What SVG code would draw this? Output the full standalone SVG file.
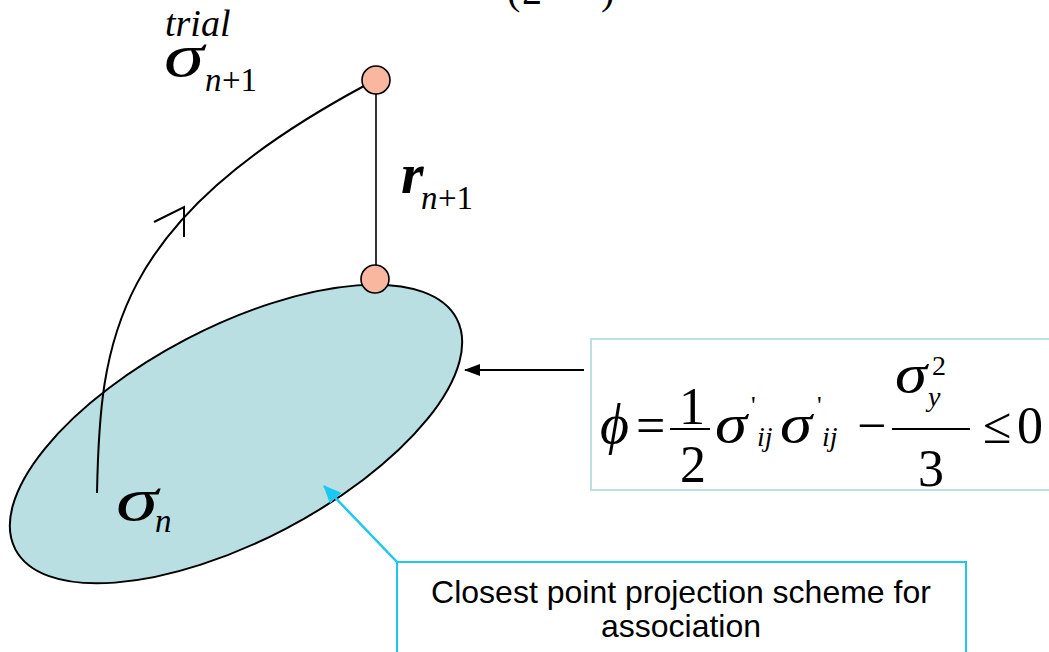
<svg xmlns="http://www.w3.org/2000/svg" width="1049" height="652" viewBox="0 0 1049 652">
<defs>
<style>
.m{font-family:"Liberation Serif","Times New Roman",serif;fill:#000}
.i{font-style:italic}
.s{font-family:"Liberation Sans",Arial,sans-serif;fill:#000;font-size:32px;text-anchor:middle}
.ln{stroke:#000;stroke-width:2;fill:none}
.pt{fill:#F9B7A0;stroke:#000;stroke-width:1.6}
</style>
<marker id="ab" markerWidth="16" markerHeight="14" refX="15" refY="7" orient="auto" markerUnits="userSpaceOnUse">
<path d="M0,1 L16,7 L0,13 Z" fill="#000"/>
</marker>
<marker id="ac" markerWidth="18" markerHeight="18" refX="17" refY="9" orient="auto" markerUnits="userSpaceOnUse">
<path d="M0,1 L18,9 L0,17 Z" fill="#1BC8F0"/>
</marker>
</defs>
<rect width="1049" height="652" fill="#fff"/>

<g id="top-formula">
<text class="m" x="507" y="4" font-size="40">(</text>
<text class="m" x="522" y="4" font-size="40">2</text>
<text class="m" x="601" y="4" font-size="40">)</text>
</g>

<g id="yield-surface">
<ellipse cx="236" cy="434" rx="249" ry="107" transform="rotate(-27.6 236 434)" fill="#B9DFE3" stroke="#000" stroke-width="2"/>
</g>

<g id="connectors">
<path class="ln" d="M97,493 C100,340 112,222 364,86"/>
<path class="ln" d="M154,222 L184,207 L184,237"/>
<line x1="376" y1="94" x2="376" y2="265" stroke="#000" stroke-width="1.6"/>
<line x1="584" y1="370" x2="465" y2="370" stroke="#000" stroke-width="2" marker-end="url(#ab)"/>
<line x1="397" y1="562" x2="324" y2="486" stroke="#1BC8F0" stroke-width="2.5" marker-end="url(#ac)"/>
</g>

<g id="trial-point">
<circle class="pt" cx="376" cy="80" r="14"/>
<text class="m i" x="165" y="36" font-size="38">trial</text>
<text class="m i" x="164" y="76" font-size="62" textLength="40" lengthAdjust="spacingAndGlyphs">σ</text>
<text class="m i" x="205" y="91" font-size="33">n</text>
<text class="m" x="222" y="91" font-size="33">+1</text>
</g>

<g id="projected-point">
<circle class="pt" cx="375" cy="279" r="14"/>
<text class="m i" x="401" y="193" font-size="58" font-weight="bold">r</text>
<text class="m i" x="421" y="209" font-size="33">n</text>
<text class="m" x="438" y="209" font-size="33">+1</text>
</g>

<g id="sigma-n">
<text class="m i" x="116" y="520" font-size="62" textLength="42" lengthAdjust="spacingAndGlyphs">σ</text>
<text class="m i" x="155" y="532" font-size="33">n</text>
</g>

<g id="yield-function">
<rect x="591" y="339" width="470" height="151" fill="#fff" stroke="#BCDFE3" stroke-width="2"/>
<text class="m i" x="600" y="443" font-size="56">ϕ</text>
<text class="m" x="636" y="443" font-size="52">=</text>
<line x1="670" y1="429" x2="710" y2="429" stroke="#000" stroke-width="2"/>
<text class="m" x="692" y="424" font-size="52" text-anchor="middle">1</text>
<text class="m" x="693" y="482" font-size="52" text-anchor="middle">2</text>
<text class="m i" x="715" y="442" font-size="54" textLength="32" lengthAdjust="spacingAndGlyphs">σ</text>
<text class="m" x="751" y="414" font-size="26">'</text>
<text class="m i" x="757" y="446" font-size="28">ij</text>
<text class="m i" x="780" y="442" font-size="54" textLength="32" lengthAdjust="spacingAndGlyphs">σ</text>
<text class="m" x="817" y="414" font-size="26">'</text>
<text class="m i" x="822" y="446" font-size="28">ij</text>
<text class="m" x="857" y="443" font-size="52">−</text>
<line x1="892" y1="429" x2="970" y2="429" stroke="#000" stroke-width="2"/>
<text class="m i" x="895" y="392" font-size="54" textLength="32" lengthAdjust="spacingAndGlyphs">σ</text>
<text class="m" x="932" y="375" font-size="28">2</text>
<text class="m i" x="928" y="406" font-size="28">y</text>
<text class="m" x="931" y="486" font-size="52" text-anchor="middle">3</text>
<text class="m" x="983" y="443" font-size="52">≤</text>
<text class="m" x="1017" y="443" font-size="52">0</text>
</g>

<g id="note">
<rect x="397" y="562" width="569" height="110" fill="#fff" stroke="#1BC8F0" stroke-width="2"/>
<text class="s" x="681" y="603">Closest point projection scheme for</text>
<text class="s" x="681" y="637">association</text>
</g>
</svg>
